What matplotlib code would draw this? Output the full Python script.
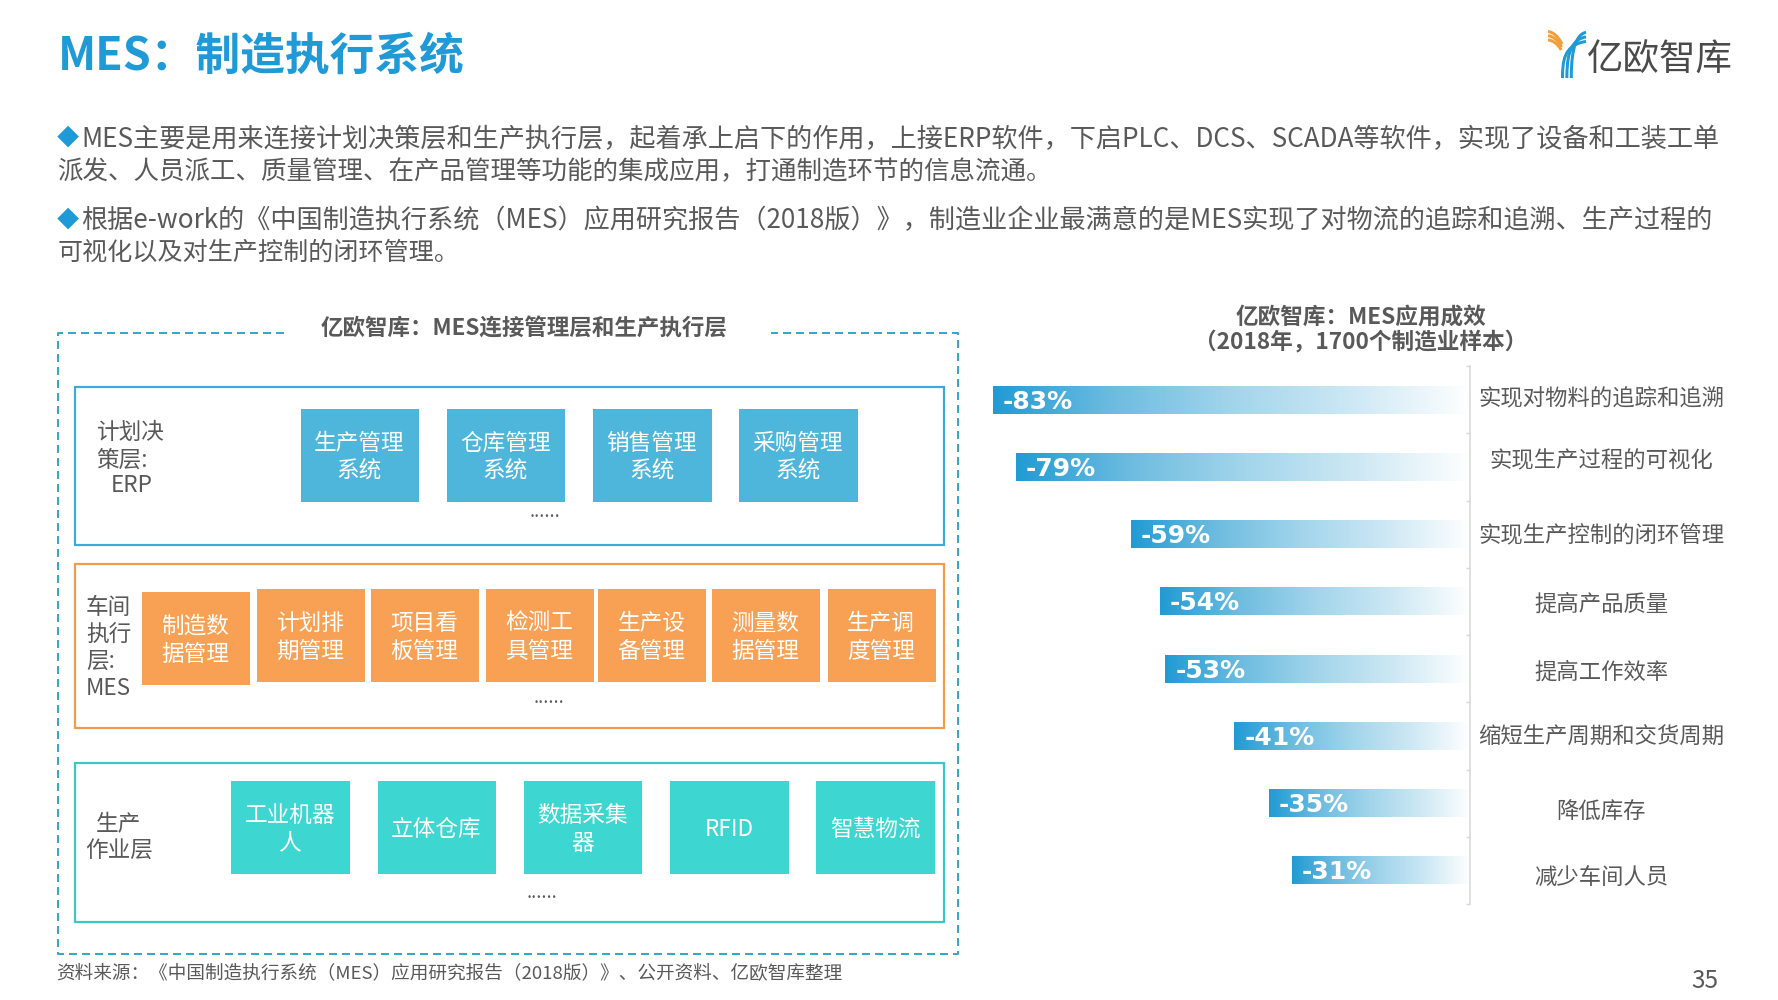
import numpy as np
import matplotlib
matplotlib.use('Agg')
import matplotlib.pyplot as plt
from matplotlib.patches import Rectangle, PathPatch
from matplotlib.path import Path
from matplotlib.colors import LinearSegmentedColormap

plt.rcParams['font.family'] = ['Noto Sans CJK SC', 'DejaVu Sans']

# ---- data ----
page_title = 'MES\uff1a制造执行系统'
body_lines = [
    'MES主要是用来连接计划决策层和生产执行层\uff0c起着承上启下的作用\uff0c上接ERP软件\uff0c下启PLC、DCS、SCADA等软件\uff0c实现了设备和工装工单',
    '派发、人员派工、质量管理、在产品管理等功能的集成应用\uff0c打通制造环节的信息流通。',
    '根据e-work的《中国制造执行系统\uff08MES\uff09应用研究报告\uff082018版\uff09》\uff0c制造业企业最满意的是MES实现了对物流的追踪和追溯、生产过程的',
    '可视化以及对生产控制的闭环管理。',
]
left_title = '亿欧智库\uff1aMES连接管理层和生产执行层'
right_title = '亿欧智库\uff1aMES应用成效\n\uff082018年\uff0c1700个制造业样本\uff09'
erp_items = ['生产管理\n系统', '仓库管理\n系统', '销售管理\n系统', '采购管理\n系统']
mes_items = ['制造数\n据管理', '计划排\n期管理', '项目看\n板管理', '检测工\n具管理',
             '生产设\n备管理', '测量数\n据管理', '生产调\n度管理']
ops_items = ['工业机器\n人', '立体仓库', '数据采集\n器', 'RFID', '智慧物流']
categories = ['实现对物料的追踪和追溯', '实现生产过程的可视化', '实现生产控制的闭环管理', '提高产品质量',
              '提高工作效率', '缩短生产周期和交货周期', '降低库存', '减少车间人员']
effects = [-83, -79, -59, -54, -53, -41, -35, -31]
source = '资料来源\uff1a《中国制造执行系统\uff08MES\uff09应用研究报告\uff082018版\uff09》、公开资料、亿欧智库整理'
page_no = '35'
logo_text = '亿欧智库'

# ---- layout ----
W, H = 1778, 1000
GRAY = '#595959'
BLUE = '#1F9AD6'
fig = plt.figure(figsize=(W / 100, H / 100), dpi=100, facecolor='white')
page = fig.add_axes([0, 0, 1, 1])
page.set_xlim(0, W)
page.set_ylim(H, 0)
page.axis('off')


def px(p):
    return p * 0.72


def fit_text(x, y, s, target, size, **kw):
    t = page.text(x, y, s, fontsize=size, va='center', ha='left', **kw)
    w = t.get_window_extent(fig.canvas.get_renderer()).width
    t.set_fontsize(size * target / w)
    return t


fit_text(58, 57, page_title, 407, 32, fontweight='bold', color=BLUE)

# body
body_geo = [(81.5, 1720, 139.5), (57.5, 1054, 172), (81.5, 1713, 221), (57.5, 459, 252.5)]
for s, (x0, x1, y) in zip(body_lines, body_geo):
    fit_text(x0, y, s, x1 - x0, 18.8, color=GRAY)
for y in (138.5, 220):
    page.text(57, y, '◆', fontsize=16, color=BLUE, va='center', ha='left')

# dashed frame
DASH = (0, (4, 2.5))
fc = '#35A9CC'
page.plot([284, 58, 58, 958, 958, 771], [333, 333, 954, 954, 333, 333],
          color=fc, lw=px(2), ls=DASH)
page.text(524.5, 328.5, left_title, fontsize=16.2, fontweight='bold', color=GRAY, ha='center', va='center')


def layer(top, bottom, edge):
    page.add_patch(Rectangle((75, top), 868.5, bottom - top, fc='none', ec=edge, lw=px(2.2)))


def tiles(items, xs, w, ys, h, color, fs=16.3):
    for s, x, y in zip(items, xs, ys):
        page.add_patch(Rectangle((x, y), w, h, fc=color, ec='none'))
        page.text(x + w / 2 - 0.5, y + h / 2 + 2, s, fontsize=fs, color='white', ha='center', va='center',
                  linespacing=1.27, multialignment='center')


# planning layer
layer(387, 545, '#3FA9DC')
tiles(erp_items, [300.5, 446.5, 593, 739], 118.5, [409] * 4, 93, '#4DB6DA')
page.text(96.5, 446.5, '计划决\n策层:', fontsize=16.3, color=GRAY, ha='left', va='center', linespacing=1.25)
page.text(111, 485.5, 'ERP', fontsize=16.3, color=GRAY, ha='left', va='center')
page.text(545, 512, '......', fontsize=13, color=GRAY, ha='center', va='center')

# MES layer
layer(564, 728, '#F29A4E')
tiles(mes_items, [142, 257, 370.5, 485.5, 598, 712, 827.5], 108, [592, 589, 589, 589, 589, 589, 589], 93, '#F8A154')
page.text(86, 648, '车间\n执行\n层:\nMES', fontsize=16.3, color=GRAY, ha='left', va='center', linespacing=1.23)
page.text(549, 698, '......', fontsize=13, color=GRAY, ha='center', va='center')

# operations layer
layer(763, 922, '#3CC6C6')
tiles(ops_items, [231, 377.5, 523.5, 670, 816], 118.7, [781] * 5, 93, '#3DD6D0')
page.text(96, 825, '生产', fontsize=16.3, color=GRAY, ha='left', va='center')
page.text(85, 850, '作业层', fontsize=16.3, color=GRAY, ha='left', va='center')
page.text(542, 893, '......', fontsize=13, color=GRAY, ha='center', va='center')

# footer
fit_text(56, 973, source, 786, 13.3, color=GRAY)
page.text(1704.5, 981, page_no, fontsize=17.5, color=GRAY, ha='center', va='center')

# logo mark (drawn shapes)
for dx, top in zip([0, 4.4, 8.8], [0, 1, 2]):
    xb = 1562.5 + dx
    yend = 42.5 - 4.6 * top
    verts = [(xb, 78), (xb, 62), (xb + 1, yend + 2), (1586, yend - 1)]
    page.add_patch(PathPatch(Path(verts, [Path.MOVETO, Path.CURVE4, Path.CURVE4, Path.CURVE4]),
                             fc='none', ec='#1F9AD6', lw=px(3.0), capstyle='butt'))
for i in range(3):
    xe = 1562 - i * 0.4
    verts = [(1548, 31.5 + i * 4.2), (1553, 32 + i * 4.2), (1558, 36 + i * 4), (xe, 44 + i * 3)]
    page.add_patch(PathPatch(Path(verts, [Path.MOVETO, Path.CURVE4, Path.CURVE4, Path.CURVE4]),
                             fc='none', ec='#F0A03C', lw=px(3.0), capstyle='butt'))
fit_text(1587, 60.5, logo_text, 146, 26, color='#4A4A4A')

# ---- bar chart ----
AX_L, AX_R, AX_T, AX_B = 993.0, 1470.0, 366.0, 904.0
ax = fig.add_axes([AX_L / W, 1 - AX_B / H, (AX_R - AX_L) / W, (AX_B - AX_T) / H])
ax.patch.set_alpha(0)
n = len(effects)
ypos = np.arange(n)
bars = ax.barh(ypos, effects, height=28 / 67.25, color='none')
cmap = LinearSegmentedColormap.from_list('fade', ['#219BD4', '#6DBCE0', '#A2D5EB', '#CDE8F4', '#FFFFFF'])
grad = np.linspace(0, 1, 256).reshape(1, -1)
for b, v, yy in zip(bars, effects, ypos):
    ax.imshow(grad, cmap=cmap, aspect='auto', extent=[v, 0, yy + 14 / 67.25, yy - 14 / 67.25], zorder=2)
    ax.text(v + 1.7, yy + 0.03, f'{v}%', family='DejaVu Sans', fontweight='bold', fontsize=18,
            color='white', ha='left', va='center', zorder=3)
ax.set_xlim(-83, 0)
ax.set_ylim(n - 0.5, -0.5)
for sp in ('left', 'top', 'bottom'):
    ax.spines[sp].set_visible(False)
ax.spines['right'].set_color('#D9D9D9')
ax.spines['right'].set_linewidth(px(1.6))
ax.yaxis.tick_right()
ax.set_yticks(np.arange(n + 1) - 0.5)
ax.set_yticklabels([])
ax.tick_params(axis='y', direction='in', length=3, color='#D9D9D9', width=px(1.4), right=True)
ax.set_xticks([])

label_y = [399, 461, 536, 604, 672, 737, 812, 878]
for s, y in zip(categories, label_y):
    fit_text(1601 - 123 * len(s) / 11, y, s, 246 * len(s) / 11, 16, color=GRAY)
page.text(1361, 330.5, right_title, fontsize=16.3, fontweight='bold', color=GRAY, ha='center', va='center',
          linespacing=1.12, multialignment='center')

fig.savefig('out.png', dpi=100, facecolor='white')
